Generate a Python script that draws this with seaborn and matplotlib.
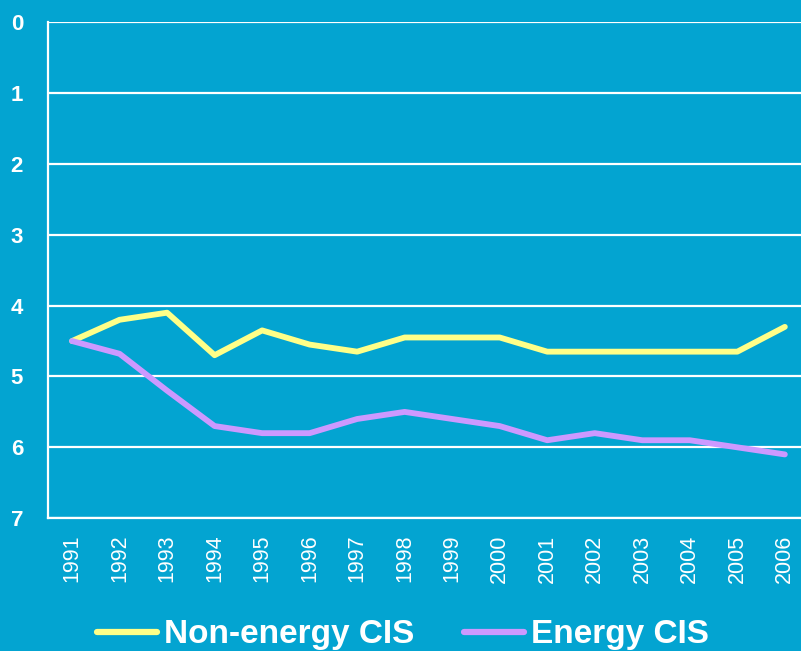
import pandas as pd
import matplotlib.pyplot as plt
import seaborn as sns

# data
years = list(range(1991, 2007))
non_energy = [4.5, 4.2, 4.1, 4.7, 4.35, 4.55, 4.65, 4.45, 4.45, 4.45,
              4.65, 4.65, 4.65, 4.65, 4.65, 4.3]
energy = [4.5, 4.68, 5.2, 5.7, 5.8, 5.8, 5.6, 5.5, 5.6, 5.7,
          5.9, 5.8, 5.9, 5.9, 6.0, 6.1]
series_names = ["Non-energy CIS", "Energy CIS"]
y_ticks = [0, 1, 2, 3, 4, 5, 6, 7]

bg = "#03A4D1"
colors = {"Non-energy CIS": "#FFFF88", "Energy CIS": "#CC99FF"}

df = pd.DataFrame({
    "year": years * 2,
    "value": non_energy + energy,
    "series": [series_names[0]] * len(years) + [series_names[1]] * len(years),
})

sns.set_style("white")
plt.rcParams['font.family'] = ['Liberation Sans', 'DejaVu Sans']

fig = plt.figure(figsize=(8.01, 6.51), dpi=100, facecolor=bg)
ax = fig.add_axes([0.060, 0.204, 0.94, 0.762])
ax.set_facecolor(bg)

sns.lineplot(data=df, x="year", y="value", hue="series", palette=colors,
             linewidth=4.2, ax=ax, legend=False, solid_capstyle="round")

ax.set_ylim(7, 0)
ax.set_yticks(y_ticks)
ax.set_xlim(1990.495, 2006.34)
ax.set_xticks(years)
ax.set_xticklabels([str(y) for y in years], rotation=90, fontsize=15.5,
                   color="white")
ax.set_yticklabels([str(t) for t in y_ticks], fontsize=16, fontweight="bold",
                   color="white")
ax.tick_params(axis="y", length=6, width=1.5, color="white", pad=12)
ax.tick_params(axis="x", length=0, pad=12)
ax.grid(axis="y", color="white", linewidth=1.6)
ax.set_axisbelow(True)
ax.set_xlabel("")
ax.set_ylabel("")
for side in ["top", "right"]:
    ax.spines[side].set_visible(False)
for side in ["left", "bottom"]:
    ax.spines[side].set_color("white")
    ax.spines[side].set_linewidth(1.6)

handles = [plt.Line2D([], [], color=colors[n], linewidth=4.5,
                      solid_capstyle="round") for n in series_names]
leg = fig.legend(handles, series_names, loc="center", ncol=2,
                 bbox_to_anchor=(0.503, 0.025), frameon=False,
                 handlelength=1.8, handletextpad=0.2, columnspacing=1.5,
                 prop={"size": 24, "weight": "bold"})
for t in leg.get_texts():
    t.set_color("white")

fig.savefig("out.png", dpi=100, facecolor=bg)
